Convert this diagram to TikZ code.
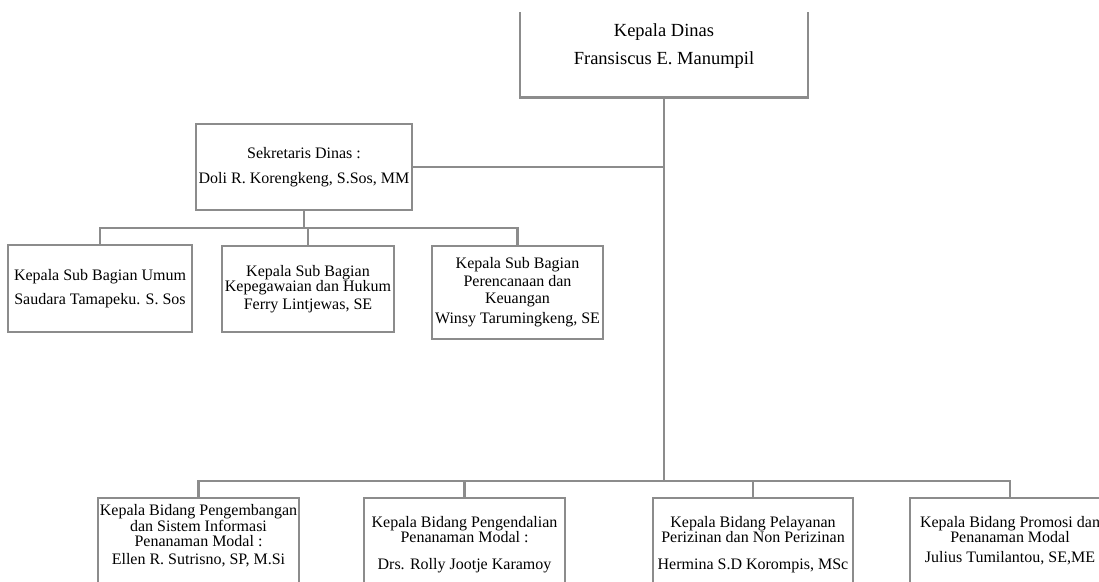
\documentclass[tikz,border=0pt]{standalone}
\usepackage{fontspec}
\setmainfont{Liberation Serif}
\definecolor{linegray}{RGB}{140,140,140}
\begin{document}
\begin{tikzpicture}[x=1pt,y=-1pt,
  orgbox/.style={draw=linegray,line width=2.8pt,fill=white,inner sep=0pt,align=center,font=\fontsize{16}{14}\selectfont},
  conn/.style={draw=linegray,line width=2.8pt},
  txt/.style={inner sep=0pt,align=center,font=\fontsize{16}{14}\selectfont}]
\useasboundingbox (0,0) rectangle (1099,581);
\fill[white] (0,0) rectangle (1099,581);
\begin{scope}
\clip (0,12) rectangle (1099,581);
% top
\node[orgbox,minimum width=288pt,minimum height=103pt,font=\fontsize{18.5}{28}\selectfont] (kd) at (664,46) {Kepala Dinas\\Fransiscus E. Manumpil};
% secretary
\node[orgbox,minimum width=216pt,minimum height=86pt] (sec) at (304,167) {Sekretaris Dinas :\\[11.5pt]Doli R. Korengkeng, S.Sos, MM};
% sub sections
\node[orgbox,minimum width=184pt,minimum height=87pt] (s1) at (100,288.5) {Kepala Sub Bagian Umum\\[9pt]Saudara Tamapeku. S. Sos};
\node[orgbox,minimum width=172pt,minimum height=86pt] (s2) at (308,289) {Kepala Sub Bagian\\Kepegawaian dan Hukum\\[3pt]Ferry Lintjewas, SE};
\node[orgbox,minimum width=171pt,minimum height=93pt,font=\fontsize{16}{17.5}\selectfont] (s3) at (517.5,292.5) {Kepala Sub Bagian\\Perencanaan dan\\Keuangan\\[2.5pt]Winsy Tarumingkeng, SE};
% bottom row boxes
\node[orgbox,minimum width=201pt,minimum height=102pt] (b1) at (198.5,549) {};
\node[orgbox,minimum width=201pt,minimum height=102pt] (b2) at (464.5,549) {};
\node[orgbox,minimum width=200pt,minimum height=102pt] (b3) at (753,549) {};
\node[orgbox,minimum width=200pt,minimum height=102pt] (b4) at (1010,549) {};
\node[txt,anchor=north,font=\fontsize{16}{14.6}\selectfont] (b1t) at (198.5,504.5) {Kepala Bidang Pengembangan\\dan Sistem Informasi\\Penanaman Modal :\\[3.5pt]Ellen R. Sutrisno, SP, M.Si};
\node[txt,anchor=north] (b2t) at (464.5,516) {Kepala Bidang Pengendalian\\Penanaman Modal :\\[13pt]Drs. Rolly Jootje Karamoy};
\node[txt,anchor=north] (b3t) at (753,516) {Kepala Bidang Pelayanan\\Perizinan dan Non Perizinan\\[13pt]Hermina S.D Korompis, MSc};
\node[txt,anchor=north] (b4t) at (1010,516) {Kepala Bidang Promosi dan\\Penanaman Modal\\[6pt]Julius Tumilantou, SE,ME};
% connectors
\coordinate (bbus) at (664,481);
\coordinate (sbus) at (305,228);
\draw[conn] (kd.south) -- (kd.south |- bbus);
\draw[conn] (sec.east) -- (sec.east -| kd.south);
\draw[conn] (b1.north) -- (b1.north |- bbus) -- (b4.north |- bbus) -- (b4.north);
\draw[conn] (b2.north) -- (b2.north |- bbus);
\draw[conn] (b3.north) -- (b3.north |- bbus);
\draw[conn] (sec.south) -- (sec.south |- sbus);
\draw[conn] (s1.north) -- (s1.north |- sbus) -- (s3.north |- sbus) -- (s3.north);
\draw[conn] (s2.north) -- (s2.north |- sbus);
\end{scope}
\end{tikzpicture}
\end{document}
